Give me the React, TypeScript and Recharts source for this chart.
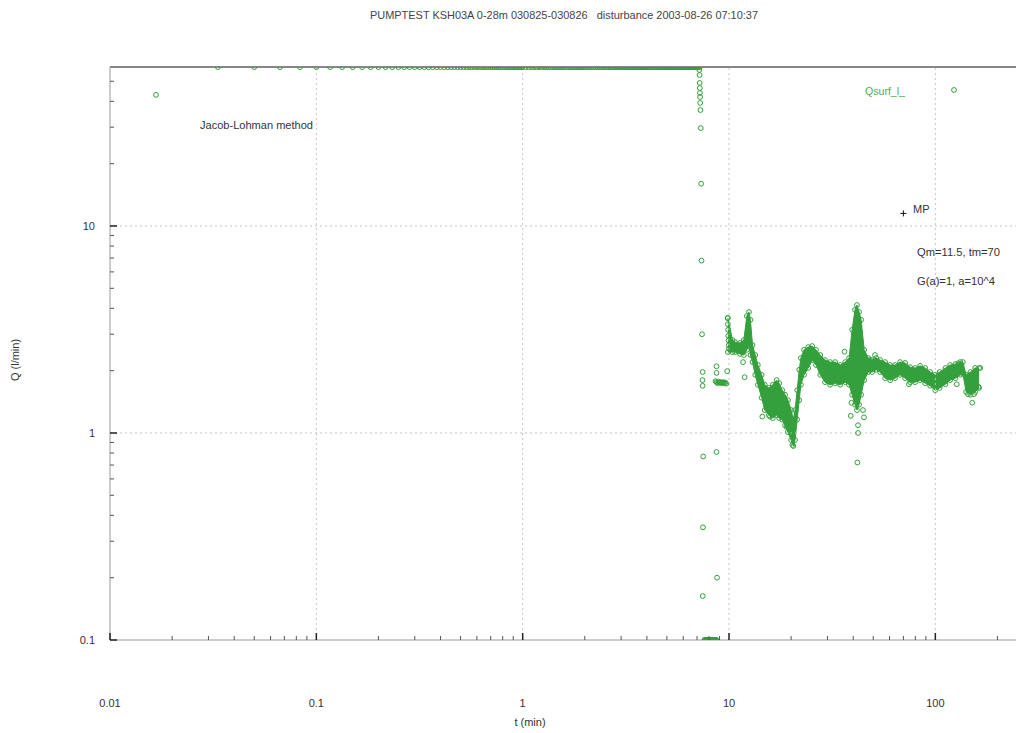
import React from 'react';
import { ComposedChart, Area, Scatter, XAxis, YAxis, ReferenceLine } from 'recharts';

const GREEN = '#33a03c';
const LEGEND_GREEN = '#55aa55';
const FONT = '"Liberation Sans", Arial, sans-serif';

// first sample (1 s) sits below the plateau
const startup = [[0.0167, 43]];
// plateau samples, seconds after start, all at the top of the plot
const plateauSeconds = [
  2, 3, 4, 5, 6, 7, 8, 9, 10, 11, 12, 13, 14, 15, 16, 17, 18, 19, 20, 21, 22, 23, 24, 25, 26, 27, 28, 29, 30,
  31, 32, 33, 34, 35, 36, 37, 38, 39, 40, 41, 42, 43, 44, 45, 46, 47, 48, 49, 50, 51, 52, 53, 54, 55, 56, 57, 58, 59, 60,
  62, 64, 66, 68, 70, 72, 74, 76, 78, 80, 82, 84, 86, 88, 90, 92, 94, 96, 98, 100, 102, 104, 106, 108, 110, 112, 114, 116, 118, 120,
  123, 126, 129, 132, 135, 138, 141, 144, 147, 150, 153, 156, 159, 162, 165, 168, 171, 174, 177, 180,
  183, 186, 189, 192, 195, 198, 201, 204, 207, 210, 213, 216, 219, 222, 225, 228, 231, 234, 237, 240,
  244, 248, 252, 256, 260, 264, 268, 272, 276, 280, 284, 288, 292, 296, 300, 304, 308, 312, 316, 320,
  324, 328, 332, 336, 340, 344, 348, 352, 356, 360, 364, 368, 372, 376, 380, 384, 388, 392, 396, 400,
  404, 408, 412, 416, 420, 424, 428, 432,
];
const plateauQ = 58.5;

// disturbance: flow drops at ~7.2 min
const drop = [
  [7.18, 56.7], [7.2, 53.6], [7.21, 49.1], [7.22, 46.4], [7.23, 43.9], [7.24, 42.0], [7.25, 39.3],
  [7.27, 36.3], [7.3, 29.7], [7.33, 16.0], [7.36, 6.8], [7.4, 3.0], [7.45, 1.97], [7.44, 1.8],
  [7.45, 1.69], [7.5, 0.77], [7.48, 0.35], [7.46, 0.163], [8.7, 0.81], [8.75, 0.2],
];
// samples at the lower limit
const zeroFlowTimes = [7.6, 7.65, 7.7, 7.75, 7.8, 7.85, 7.9, 7.95, 8.0, 8.05, 8.1, 8.15, 8.2, 8.25, 8.3, 8.35, 8.4, 8.45, 8.5, 8.55, 8.6, 8.65, 8.7];
const zeroFlowQ = 0.1;

const restart = [
  [8.6, 1.78], [8.7, 1.76], [8.8, 1.74], [8.9, 1.77], [9.0, 1.75], [9.1, 1.76], [9.2, 1.74], [9.3, 1.75],
  [9.4, 1.76], [9.5, 1.74], [9.6, 1.75], [9.7, 1.73], [8.7, 2.1], [8.7, 1.95], [9.8, 1.99],
  [9.85, 3.59], [9.88, 3.35], [9.9, 3.15], [9.92, 2.95], [9.95, 2.8], [9.97, 2.65], [10.0, 2.55],
];

const outliers = [
  [11.7, 2.2], [11.9, 1.86], [14.5, 1.2], [15.8, 1.2], [19.0, 1.07], [20.3, 0.875],
  [36.3, 2.47], [38.9, 1.21], [39.2, 1.4], [42.2, 1.09], [42.2, 1.0], [41.9, 0.72], [44.6, 1.29],
  [45.1, 1.19], [48.3, 2.25], [51, 2.38], [74.5, 1.72], [127, 1.72], [129, 2.17], [144, 1.54],
  [151, 1.4], [154, 1.54], [162, 1.67], [165, 2.06],
];

// dense part of the record: lower and upper edge of the cloud of points
const bandTimes = [
  9.87, 10.4, 10.7, 11.3, 11.8, 12.2, 12.5, 12.7, 13.0, 13.4, 13.8, 14.4, 14.9, 15.6, 16.3, 17.0, 17.5,
  18.1, 18.7, 19.3, 20.0, 20.5, 20.9, 21.4, 21.9, 22.3, 23.1, 24.2, 25.3, 26.4, 27.7, 29.2, 30.9, 32.7,
  34.6, 36.6, 38.2, 39.5, 40.8, 41.7, 42.7, 43.7, 45.2, 47.3, 49.4, 51.7, 54.0, 57.1, 60.4, 63.8, 67.5,
  71.4, 75.5, 79.8, 84.4, 89.3, 94.4, 99.8, 105, 112, 118, 125, 132, 136, 141, 148, 156, 163,
];
const bandLow = [
  2.46, 2.46, 2.46, 2.41, 2.38, 2.52, 2.66, 2.38, 2.2, 1.91, 1.71, 1.48, 1.29, 1.22, 1.18, 1.22, 1.18,
  1.16, 1.09, 1.01, 0.925, 0.865, 0.925, 1.16, 1.44, 1.71, 1.91, 2.06, 2.25, 2.13, 1.91, 1.76, 1.71, 1.74,
  1.71, 1.76, 1.71, 1.53, 1.37, 1.29, 1.37, 1.53, 1.8, 1.97, 1.97, 2.02, 1.97, 1.84, 1.8, 1.84, 1.91,
  1.84, 1.76, 1.76, 1.8, 1.74, 1.69, 1.61, 1.65, 1.72, 1.8, 1.84, 1.91, 1.93, 1.58, 1.53, 1.58, 1.65,
];
const bandHigh = [
  3.59, 2.81, 2.75, 2.72, 2.81, 3.67, 3.84, 3.52, 2.66, 2.38, 2.13, 1.91, 1.71, 1.65, 1.71, 1.8, 1.74,
  1.61, 1.53, 1.44, 1.29, 1.16, 1.29, 1.61, 2.02, 2.3, 2.52, 2.6, 2.63, 2.52, 2.38, 2.25, 2.2, 2.2,
  2.13, 2.2, 2.3, 3.15, 3.93, 4.15, 3.84, 3.52, 2.52, 2.3, 2.25, 2.3, 2.25, 2.2, 2.13, 2.13, 2.2,
  2.18, 2.08, 2.06, 2.11, 2.06, 1.97, 1.91, 1.97, 2.06, 2.13, 2.15, 2.2, 2.2, 1.91, 1.97, 2.06, 2.06,
];

const matchPoint = [[70, 11.5]];

const xTicks = [
  0.01, 0.02, 0.03, 0.04, 0.05, 0.06, 0.07, 0.08, 0.09,
  0.1, 0.2, 0.3, 0.4, 0.5, 0.6, 0.7, 0.8, 0.9,
  1, 2, 3, 4, 5, 6, 7, 8, 9,
  10, 20, 30, 40, 50, 60, 70, 80, 90,
  100, 200,
];
const xLabels = [0.01, 0.1, 1, 10, 100];
const yTicks = [0.1, 0.2, 0.3, 0.4, 0.5, 0.6, 0.7, 0.8, 0.9, 1, 2, 3, 4, 5, 6, 7, 8, 9, 10, 20, 30, 40, 50];
const yLabels = [0.1, 1, 10];

const toPoint = (p: number[]) => ({ t: p[0], q: p[1] });

const points = [
  ...startup.map(toPoint),
  ...plateauSeconds.map((s) => ({ t: s / 60, q: plateauQ })),
  ...drop.map(toPoint),
  ...zeroFlowTimes.map((t) => ({ t, q: zeroFlowQ })),
  ...restart.map(toPoint),
  ...bandTimes.map((t, i) => ({ t, q: bandLow[i] })),
  ...bandTimes.map((t, i) => ({ t, q: bandHigh[i] })),
  ...outliers.map(toPoint),
];
const bandRows = bandTimes.map((t, i) => ({ t, band: [bandLow[i], bandHigh[i]] }));

const ring = (p: any) => <circle cx={p.cx} cy={p.cy} r={2.4} fill="none" stroke={GREEN} strokeWidth={1} />;
const plus = (p: any) => (
  <g stroke="#111" strokeWidth={1}>
    <line x1={p.cx - 3} y1={p.cy} x2={p.cx + 3} y2={p.cy} />
    <line x1={p.cx} y1={p.cy - 3} x2={p.cx} y2={p.cy + 3} />
  </g>
);

const XTick = (props: any) => {
  const { x, y, payload } = props;
  const major = xLabels.includes(payload.value);
  return (
    <g>
      <line x1={x} y1={y} x2={x} y2={y - (major ? 7 : 4)} stroke={major ? '#222' : '#555'} strokeWidth={major ? 1.5 : 1} />
      {major && (
        <text x={x} y={y + 67} textAnchor="middle" fontSize={11} fill="#333" fontFamily={FONT}>
          {String(payload.value)}
        </text>
      )}
    </g>
  );
};

const YTick = (props: any) => {
  const { x, y, payload } = props;
  const major = yLabels.includes(payload.value);
  return (
    <g>
      <line x1={x} y1={y} x2={x + (major ? 7 : 4)} y2={y} stroke={major ? '#222' : '#555'} strokeWidth={major ? 1.5 : 1} />
      {major && (
        <text x={x - 15} y={y + 4} textAnchor="end" fontSize={11} fill="#333" fontFamily={FONT}>
          {String(payload.value)}
        </text>
      )}
    </g>
  );
};

const grid = { stroke: '#c4c4c4', strokeDasharray: '2 3' };

export default function App() {
  return (
    <div style={{ position: 'absolute', left: 0, top: 0, width: 1016, height: 733, background: '#fff', fontFamily: FONT }}>
      <ComposedChart width={1016} height={733} data={bandRows} margin={{ top: 67, right: 0, bottom: 63, left: 50 }}>
        <XAxis
          dataKey="t"
          type="number"
          scale="log"
          domain={[0.01, 246]}
          allowDataOverflow
          ticks={xTicks}
          interval={0}
          tick={<XTick />}
          tickLine={false}
          tickSize={0}
          tickMargin={0}
          height={30}
          axisLine={{ stroke: '#999' }}
        />
        <YAxis
          type="number"
          scale="log"
          domain={[0.1, 58.6]}
          allowDataOverflow
          ticks={yTicks}
          interval={0}
          tick={<YTick />}
          tickLine={false}
          tickSize={0}
          tickMargin={0}
          width={60}
          axisLine={{ stroke: '#999' }}
        />
        {[0.1, 1, 10, 100].map((v) => (
          <ReferenceLine key={'x' + v} x={v} {...grid} />
        ))}
        {[1, 10].map((v) => (
          <ReferenceLine key={'y' + v} y={v} {...grid} />
        ))}
        <ReferenceLine y={58.6} stroke="#111" strokeWidth={1.2} />
        <Area
          dataKey="band"
          type="linear"
          stroke={GREEN}
          fill={GREEN}
          fillOpacity={1}
          dot={false}
          activeDot={false}
          isAnimationActive={false}
        />
        <Scatter name="Qsurf_l_" data={points} dataKey="q" shape={ring} isAnimationActive={false} />
        <Scatter name="MP" data={matchPoint.map(toPoint)} dataKey="q" shape={plus} isAnimationActive={false} />
      </ComposedChart>
      <svg width={1016} height={733} style={{ position: 'absolute', left: 0, top: 0, pointerEvents: 'none' }} fontFamily={FONT}>
        <text x={370} y={19} fontSize={10.5} fill="#444" textLength={388} lengthAdjust="spacingAndGlyphs" style={{ whiteSpace: 'pre' }}>
          {'PUMPTEST KSH03A 0-28m 030825-030826   disturbance 2003-08-26 07:10:37'}
        </text>
        <text x={200} y={129} fontSize={11} fill="#333" textLength={113} lengthAdjust="spacingAndGlyphs">
          Jacob-Lohman method
        </text>
        <text x={865} y={95} fontSize={11} fill={LEGEND_GREEN} textLength={40} lengthAdjust="spacingAndGlyphs">
          Qsurf_l_
        </text>
        <circle cx={954} cy={90} r={2.4} fill="none" stroke={GREEN} strokeWidth={1} />
        <text x={913} y={213} fontSize={11} fill="#333">MP</text>
        <text x={917} y={256} fontSize={11} fill="#333" textLength={83} lengthAdjust="spacingAndGlyphs">
          Qm=11.5, tm=70
        </text>
        <text x={917} y={285} fontSize={11} fill="#333" textLength={78} lengthAdjust="spacingAndGlyphs">
          G(a)=1, a=10^4
        </text>
        <text x={16} y={360} fontSize={11} fill="#333" textAnchor="middle" transform="rotate(-90 16 360)" dominantBaseline="middle">
          Q (l/min)
        </text>
        <text x={530} y={726} fontSize={11} fill="#333" textAnchor="middle">
          t (min)
        </text>
      </svg>
    </div>
  );
}
